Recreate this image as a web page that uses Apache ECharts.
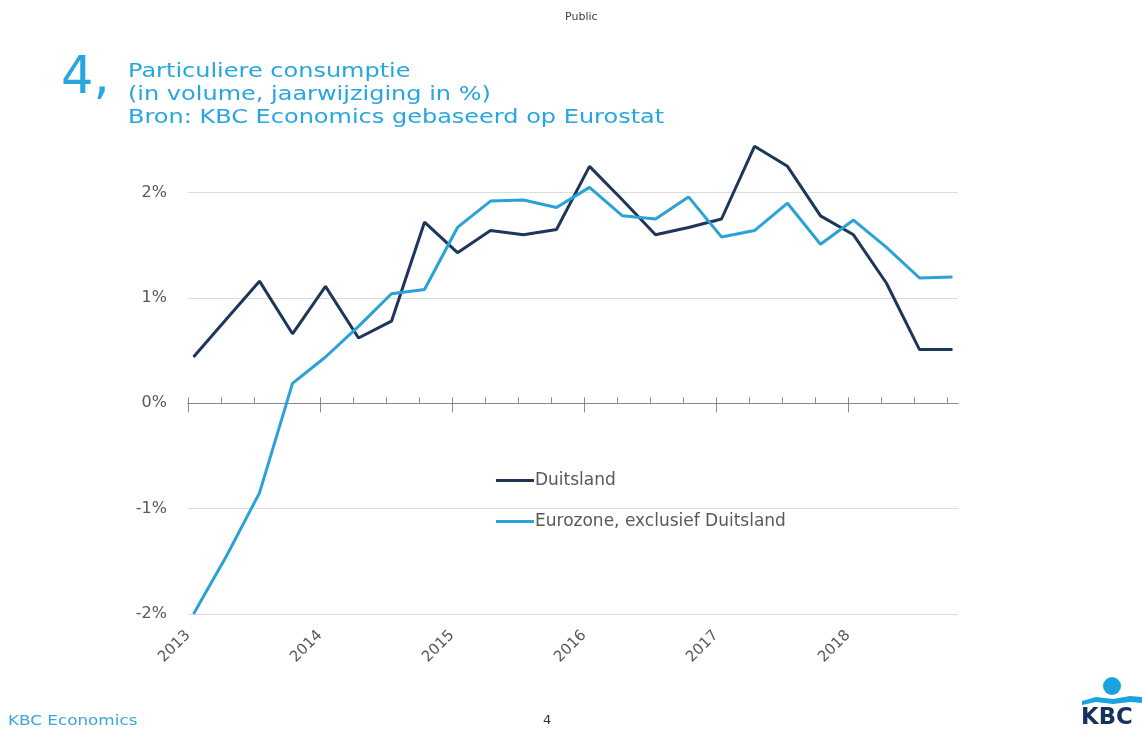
<!DOCTYPE html>
<html>
<head>
<meta charset="utf-8">
<script src="https://cdn.jsdelivr.net/npm/echarts@6/dist/echarts.min.js"></script>
<style>
  html, body { margin: 0; padding: 0; background: #ffffff; }
  #chart { width: 1142px; height: 733px; }
</style>
</head>
<body>
<div id="chart"></div>
<script>
// Quarterly private consumption growth (volume, % y/y)
const quarters = [
  '2013K1', '2013K2', '2013K3', '2013K4',
  '2014K1', '2014K2', '2014K3', '2014K4',
  '2015K1', '2015K2', '2015K3', '2015K4',
  '2016K1', '2016K2', '2016K3', '2016K4',
  '2017K1', '2017K2', '2017K3', '2017K4',
  '2018K1', '2018K2', '2018K3', '2018K4'
];
const duitsland = [
  0.44, 0.80, 1.16, 0.66,
  1.11, 0.62, 0.78, 1.72,
  1.43, 1.64, 1.60, 1.65,
  2.25, 1.93, 1.60, 1.67,
  1.75, 2.44, 2.25, 1.78,
  1.60, 1.14, 0.51, 0.51
];
const eurozoneExclDuitsland = [
  -2.00, -1.45, -0.85, 0.19,
  0.44, 0.73, 1.04, 1.08,
  1.67, 1.92, 1.93, 1.86,
  2.05, 1.78, 1.75, 1.96,
  1.58, 1.64, 1.90, 1.51,
  1.74, 1.48, 1.19, 1.20
];
const seriesNames = ['Duitsland', 'Eurozone, exclusief Duitsland'];
const yearLabels = [2013, 2014, 2015, 2016, 2017, 2018];
const yTickValues = [-2, -1, 0, 1, 2];

// x axis runs in months since January 2013; each quarter is plotted mid first month
const firstYear = 2013;
function quarterToMonth(label) {
  const year = parseInt(label.slice(0, 4), 10);
  const q = parseInt(label.slice(5), 10);
  return (year - firstYear) * 12 + (q - 1) * 3 + 0.5;
}
const yearMonths = yearLabels.map(y => (y - firstYear) * 12);
const quarterMonths = [];
for (let m = 0; m < 70; m += 3) quarterMonths.push(m);

const X_MIN = 0, X_MAX = 70;
const gray = '#595959';
const axisGray = '#8a8a8a';
const navy = '#1d3659';
const lightBlue = '#2ba2d6';
const titleBlue = '#27a6df';
const labelFont = '"DejaVu Sans", sans-serif';

const chart = echarts.init(document.getElementById('chart'), null, { renderer: 'canvas' });

chart.setOption({
  animation: false,
  backgroundColor: '#ffffff',
  grid: { left: 188, right: 184, top: 140, bottom: 119 },
  legend: {
    data: seriesNames,
    orient: 'vertical',
    left: 491,
    top: 467,
    icon: 'rect',
    itemWidth: 38,
    itemHeight: 3,
    itemGap: 24,
    textStyle: { color: gray, fontSize: 17, fontFamily: labelFont, padding: [0, 0, 0, -4] }
  },
  xAxis: [
    {
      // year labels along the bottom of the plot
      type: 'value', min: X_MIN, max: X_MAX, position: 'bottom',
      axisLine: { show: false, onZero: false },
      axisTick: { show: false },
      splitLine: { show: false },
      axisLabel: {
        customValues: yearMonths,
        formatter: v => String(firstYear + Math.round(v / 12)),
        rotate: 45, margin: 19,
        color: gray, fontSize: 15, fontFamily: labelFont
      }
    },
    {
      // zero line with quarter ticks pointing up
      type: 'value', min: X_MIN, max: X_MAX, position: 'top',
      axisLine: { show: true, onZero: true, onZeroAxisIndex: 0, lineStyle: { color: axisGray, width: 1 } },
      axisTick: { show: true, customValues: quarterMonths, length: 6, lineStyle: { color: axisGray, width: 1 } },
      axisLabel: { show: false },
      splitLine: { show: false }
    },
    {
      // year ticks pointing down from the zero line
      type: 'value', min: X_MIN, max: X_MAX, position: 'bottom',
      axisLine: { show: true, onZero: true, onZeroAxisIndex: 0, lineStyle: { color: axisGray, width: 1 } },
      axisTick: { show: true, customValues: yearMonths, length: 9, lineStyle: { color: axisGray, width: 1 } },
      axisLabel: { show: false },
      splitLine: { show: false }
    }
  ],
  yAxis: {
    type: 'value', min: -2, max: 2.5, interval: 1,
    axisLine: { show: false },
    axisTick: { show: false },
    axisLabel: {
      customValues: yTickValues,
      formatter: v => v + '%',
      margin: 21, color: gray, fontSize: 16, fontFamily: labelFont
    },
    splitLine: { show: true, showMaxLine: false, lineStyle: { color: '#dcdcdc', width: 1 } }
  },
  series: [
    {
      name: seriesNames[0], type: 'line', xAxisIndex: 0, symbol: 'none',
      lineStyle: { color: navy, width: 3 }, itemStyle: { color: navy },
      data: quarters.map((q, i) => [quarterToMonth(q), duitsland[i]])
    },
    {
      name: seriesNames[1], type: 'line', xAxisIndex: 0, symbol: 'none',
      lineStyle: { color: lightBlue, width: 3 }, itemStyle: { color: lightBlue },
      data: quarters.map((q, i) => [quarterToMonth(q), eurozoneExclDuitsland[i]])
    }
  ],
  graphic: [
    { type: 'text', left: 565, top: 12, style: { text: 'Public', fill: '#404040', font: '11px "DejaVu Sans", sans-serif' } },
    { type: 'text', left: 61, top: 54, style: { text: '4,', fill: titleBlue, font: '51px "DejaVu Sans", sans-serif' } },
    {
      type: 'text', left: 128, top: 60, scaleX: 1.2,
      style: {
        text: 'Particuliere consumptie\n(in volume, jaarwijziging in %)\nBron: KBC Economics gebaseerd op Eurostat',
        fill: titleBlue, font: '20px "DejaVu Sans", sans-serif', lineHeight: 23
      }
    },
    { type: 'text', left: 8, top: 714, scaleX: 1.2, style: { text: 'KBC Economics', fill: '#3ea6d8', font: '14px "DejaVu Sans", sans-serif' } },
    { type: 'text', left: 543, top: 714, style: { text: '4', fill: '#333333', font: '13px "DejaVu Sans", sans-serif' } },
    // KBC logo
    { type: 'circle', shape: { cx: 1112, cy: 686, r: 9 }, style: { fill: '#1aa3e0' } },
    {
      type: 'polygon',
      shape: { points: [[1082, 701], [1096, 697], [1113, 699], [1130, 696], [1142, 697], [1142, 703], [1130, 702], [1113, 704], [1096, 702], [1082, 705]] },
      style: { fill: '#1aa3e0' }
    },
    { type: 'text', left: 1081, top: 707, scaleX: 1.1, style: { text: 'KBC', fill: '#16325c', font: 'bold 23px "DejaVu Sans Condensed", "Liberation Sans Narrow", sans-serif' } }
  ]
});
</script>
</body>
</html>
